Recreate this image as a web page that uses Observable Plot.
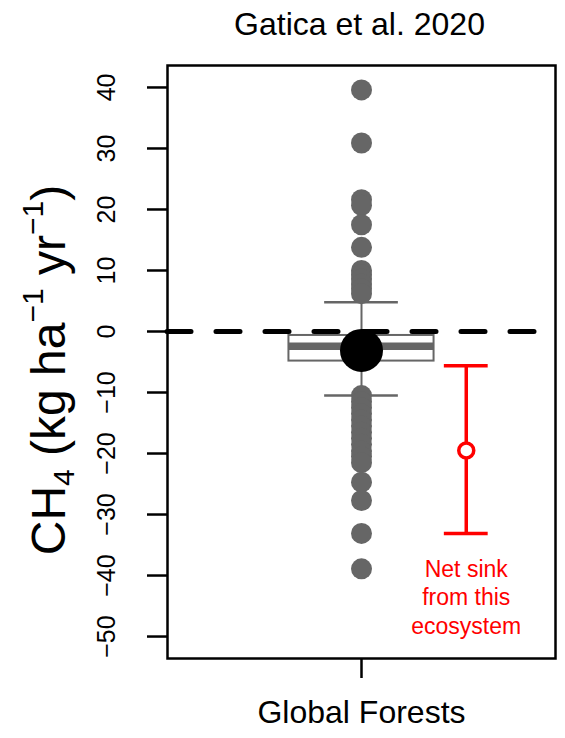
<!DOCTYPE html>
<html>
<head>
<meta charset="utf-8">
<script src="https://cdn.jsdelivr.net/npm/d3@7"></script>
<script src="https://cdn.jsdelivr.net/npm/@observablehq/plot@0.6"></script>
<style>
  html, body { margin: 0; padding: 0; background: #fff; }
  #chart svg { display: block; }
</style>
</head>
<body>
<div id="chart"></div>
<script>
// Methane flux of global forests (site values, boxplot summary, mean)
const title = "Gatica et al. 2020";
const category = "Global Forests";
const fluxes = [
  39.6, 30.9, 21.6, 20.7, 17.5, 13.8,
  10.0, 9.3, 8.6, 7.8, 7.0, 6.2,
  -10.5, -11.5, -12.5, -13.5, -14.5, -15.5, -16.5, -17.5,
  -18.5, -19.6, -20.5, -21.5, -24.7, -27.7, -33.1, -38.9
];
const quartiles = [-4.85, -0.65];
const median = [-2.4];
const whiskers = [-10.5, 4.8];
const meanFlux = [-3.1];
// net sink estimate for this ecosystem: central value and range
const sinkEstimate = [-19.5];
const sinkRange = [-33.1, -5.6];
const sinkLabel = ["Net sink", "from this", "ecosystem"];
const yTicks = [-50, -40, -30, -20, -10, 0, 10, 20, 30, 40];

// horizontal layout on a 0–2 axis: category at 1, annotation to its right
const catX = 1;
const sinkX = 1.54;
const boxHalf = 0.374;
const capHalf = 0.19;
const sinkCapHalf = 0.113;

const gray = "#666666";
const red = "#ff0000";
const font = "'Liberation Sans', Arial, sans-serif";

const chart = Plot.plot({
  width: 565,
  height: 738,
  marginTop: 65,
  marginBottom: 80,
  marginLeft: 167,
  marginRight: 10,
  style: { fontFamily: font, color: "black", background: "white" },
  x: { domain: [0, 2] },
  y: { domain: [-53.6, 43.6] },
  marks: [
    // box (interquartile range) with thick median
    Plot.rect([0], {
      x1: catX - boxHalf, x2: catX + boxHalf,
      y1: quartiles[0], y2: quartiles[1],
      fill: "white", stroke: gray, strokeWidth: 2
    }),
    Plot.ruleY(median, { x1: catX - boxHalf, x2: catX + boxHalf, stroke: gray, strokeWidth: 7.5 }),
    // whiskers and caps
    Plot.ruleX([catX], { y1: quartiles[1], y2: whiskers[1], stroke: gray, strokeWidth: 2 }),
    Plot.ruleX([catX], { y1: quartiles[0], y2: whiskers[0], stroke: gray, strokeWidth: 2 }),
    Plot.ruleY(whiskers, { x1: catX - capHalf, x2: catX + capHalf, stroke: gray, strokeWidth: 2.5 }),
    // individual sites
    Plot.dot(fluxes, { x: catX, y: d => d, r: 10.5, fill: gray, stroke: "none" }),
    // zero line
    Plot.ruleY([0], { stroke: "black", strokeWidth: 5, strokeDasharray: "24,25", strokeLinecap: "round" }),
    // mean
    Plot.dot(meanFlux, { x: catX, y: d => d, r: 21.5, fill: "black", stroke: "none" }),
    // net sink estimate
    Plot.ruleX([sinkX], { y1: sinkRange[0], y2: sinkRange[1], stroke: red, strokeWidth: 3.5 }),
    Plot.ruleY(sinkRange, { x1: sinkX - sinkCapHalf, x2: sinkX + sinkCapHalf, stroke: red, strokeWidth: 3.5 }),
    Plot.dot(sinkEstimate, { x: sinkX, y: d => d, r: 7.5, fill: "white", stroke: red, strokeWidth: 3.5 }),
    Plot.text([sinkLabel.join("\n")], {
      x: sinkX, y: sinkRange[0], text: d => d,
      lineAnchor: "top", dy: 23, lineHeight: 1.24,
      fill: red, fontSize: 23, textAnchor: "middle"
    }),
    // axes and frame
    Plot.axisY(yTicks, {
      tickSize: 20, tickPadding: 33, tickRotate: -90,
      fontSize: 25, strokeWidth: 2.5, label: null
    }),
    Plot.axisX([catX], {
      tickSize: 20, tickPadding: 22, tickFormat: () => category,
      fontSize: 32, strokeWidth: 2.5, label: null
    }),
    Plot.frame({ stroke: "black", strokeWidth: 2.5 }),
    // title
    Plot.text([title], { frameAnchor: "top", text: d => d, dy: -53, dx: -2, fontSize: 32, fill: "black" })
  ]
});

// y-axis title with subscript and superscripts
const svg = d3.select(chart);
const yTitle = svg.append("text")
  .attr("transform", "translate(65,370) rotate(-90)")
  .attr("text-anchor", "middle")
  .attr("font-family", font)
  .attr("font-size", 48)
  .attr("fill", "black");
yTitle.append("tspan").text("CH");
yTitle.append("tspan").attr("font-size", 30).attr("dy", 9).text("4");
yTitle.append("tspan").attr("dy", -9).text(" (kg ha");
yTitle.append("tspan").attr("font-size", 30).attr("dy", -22).text("\u22121");
yTitle.append("tspan").attr("dy", 22).text(" yr");
yTitle.append("tspan").attr("font-size", 30).attr("dy", -22).text("\u22121");
yTitle.append("tspan").attr("dy", 22).text(")");

document.getElementById("chart").appendChild(chart);
</script>
</body>
</html>
